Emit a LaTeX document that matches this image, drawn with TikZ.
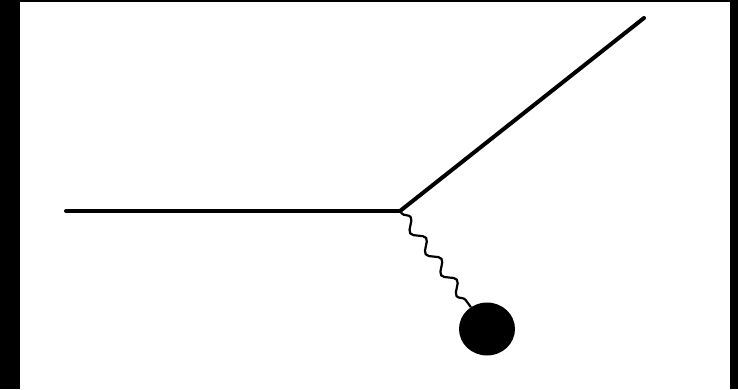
\documentclass[tikz,border=0pt]{standalone}
\usepackage{tikz}
\usetikzlibrary{positioning,decorations.pathmorphing,shapes.geometric}
\tikzset{
  leg/.style={line width=4pt, line cap=round},
  photon/.style={decorate, line width=2.2pt,
                 decoration={snake, segment length=26pt, amplitude=5pt, pre length=3pt, post length=3pt}},
  blob/.style={ellipse, fill=black, inner sep=0pt, minimum width=56pt, minimum height=53pt},
}

\begin{document}
\begin{tikzpicture}[x=1pt, y=-1pt]
  % frame
  \fill[black] (0,0) rectangle (738,389);
  \fill[white] (20,2) rectangle (730,389);
  % lines
  \coordinate (in) at (66,211);
  \coordinate (vtx) at (400,211);
  \coordinate (out) at (644,18);
  \node[blob] (ball) at (487,329) {};
  \draw[leg] (in) -- (vtx);
  \draw[leg] (vtx) -- (out);
  \draw[photon] (vtx) -- (ball);
\end{tikzpicture}
\end{document}
